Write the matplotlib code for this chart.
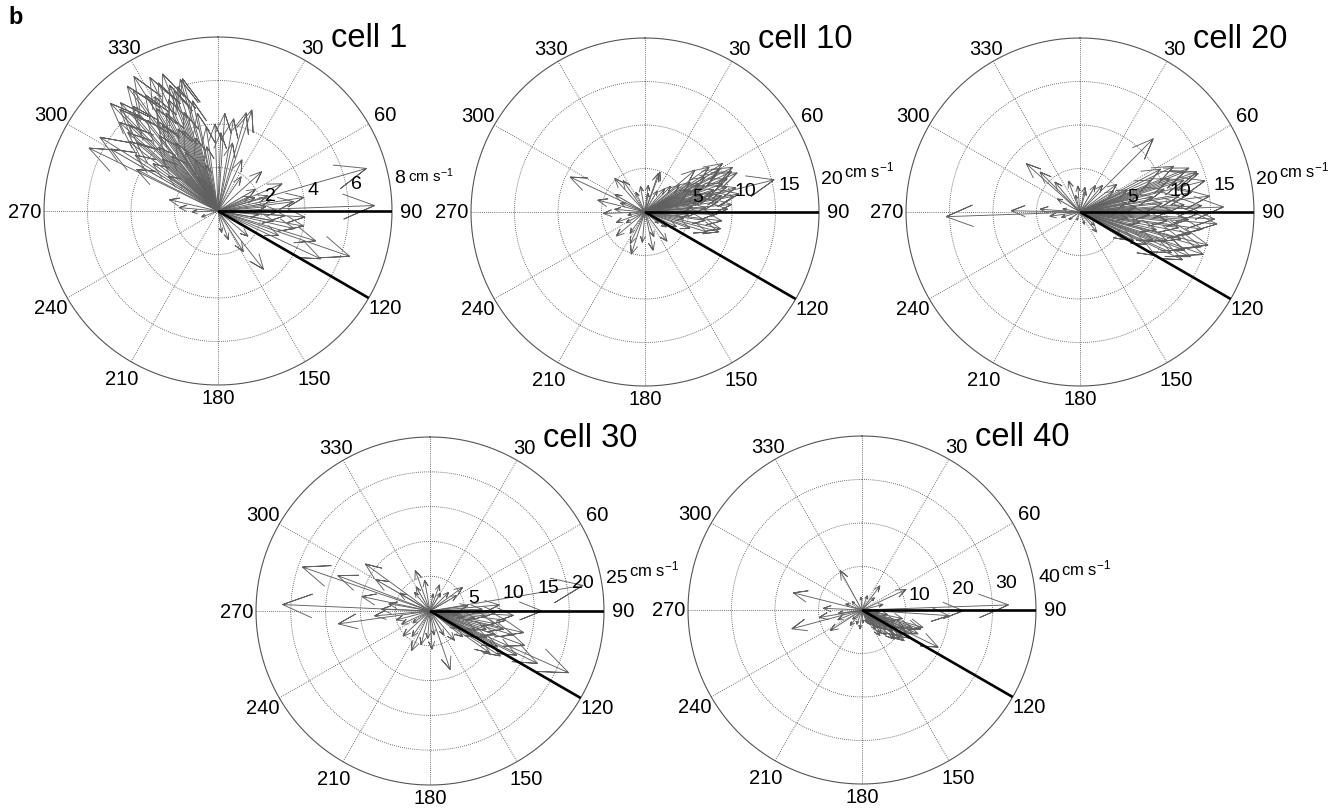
import numpy as np
import matplotlib
matplotlib.use("Agg")
import matplotlib.pyplot as plt

plt.rcParams["font.family"] = ["Liberation Sans", "DejaVu Sans"]
plt.rcParams["mathtext.fontset"] = "custom"
plt.rcParams["mathtext.rm"] = "Liberation Sans"
plt.rcParams["mathtext.default"] = "regular"

# ---------------- data: (bearing deg from N clockwise, speed cm/s) ----------------
cell1_dir = [328, 315, 344, 339, 296, 300, 316, 328, 331, 347, 345, 322, 328, 322, 314, 331, 336, 305,
             306, 297, 319, 325, 333, 336, 341, 334, 310, 320, 343, 326, 312, 302, 308, 338, 350, 352,
             358, 345, 330, 4, 18.5, 9.6, 16, 2, 12, 25, 48, 74, 88, 109, 107, 94, 81, 67, 94, 73, 34,
             100, 60, 70, 78, 85, 65, 90, 95, 100, 103, 112, 115, 83, 142, 148, 130, 160, 170, 283,
             268, 250, 275, 318, 324, 329, 335, 340, 311, 304, 317, 327, 332, 337, 342, 321, 313, 348]
cell1_spd = [7.3, 7.0, 6.3, 6.2, 6.6, 5.7, 6.5, 6.3, 6.0, 5.2, 6.3, 4.4, 3.7, 5.3, 5.7, 3.1, 2.6, 2.8,
             3.7, 4.2, 5.9, 6.8, 6.9, 5.6, 4.8, 4.2, 4.9, 3.3, 3.5, 5.0, 6.1, 6.4, 5.2, 6.8, 3.0, 3.9,
             4.0, 2.2, 1.8, 4.5, 4.9, 4.3, 4.7, 3.6, 3.2, 2.6, 2.7, 7.1, 7.2, 6.4, 4.7, 4.0, 4.0, 3.2,
             3.1, 2.4, 1.9, 4.0, 2.0, 1.8, 2.5, 2.2, 1.6, 2.8, 1.9, 2.6, 3.6, 3.0, 5.2, 3.5, 3.4, 2.2,
             1.8, 1.4, 1.0, 2.3, 1.2, 0.8, 1.8, 6.7, 7.1, 5.5, 6.5, 5.9, 5.5, 4.6, 4.0, 4.7, 5.1, 4.0,
             6.0, 6.2, 3.5, 4.6]

cell10_dir = [295, 76, 65, 62, 80, 96.5, 105, 102.5, 108, 284, 318, 325, 20.5, 7, 198, 168, 143, 230,
              268, 19, 55, 58, 60, 63, 66, 68, 70, 72, 74, 75, 77, 78, 80, 82, 84, 86, 88, 90, 92,
              94, 98, 100, 110, 115, 50, 52, 45, 40, 57, 64, 71, 30, 350, 335, 250, 240, 215, 185,
              160, 130, 275, 290, 260, 300, 10, 125, 205, 60, 67, 73, 79, 69, 62, 85, 76]
cell10_spd = [9.5, 15.3, 11.0, 9.4, 10.4, 8.9, 8.8, 8.9, 7.5, 5.6, 5.2, 4.4, 4.9, 3.1, 5.1, 4.5, 4.2,
              4.3, 4.8, 4.7, 9.0, 10.5, 8.0, 11.3, 7.5, 10.2, 9.5, 8.3, 6.8, 10.8, 7.2, 9.0, 6.0, 8.5,
              5.5, 7.0, 9.5, 6.2, 8.0, 5.0, 7.0, 4.5, 5.5, 4.0, 7.5, 5.0, 4.2, 3.5, 6.2, 5.8, 4.8,
              2.8, 3.0, 2.5, 3.5, 2.5, 3.0, 3.5, 3.0, 2.0, 3.5, 3.0, 2.0, 4.0, 2.2, 3.0, 4.0, 10.0,
              11.5, 9.8, 11.0, 6.5, 7.0, 10.0, 8.0]

cell20_dir = [268, 271, 312, 339.5, 11, 45, 53, 71, 69, 72, 88, 93, 104.5, 112, 116, 132, 254, 274,
              62, 64, 66, 68, 70, 73, 75, 76, 78, 80, 81, 83, 84, 86, 87, 89, 91, 92, 94, 95, 96, 98,
              99, 100, 101, 103, 105, 106, 108, 109, 110, 111, 114, 115, 118, 120, 122, 85, 79, 74,
              90, 97, 65, 58, 15, 355, 345, 320, 300, 280, 262, 235, 200, 160, 140, 30, 40, 315]
cell20_spd = [15.4, 7.9, 8.3, 3.8, 2.9, 11.9, 5.3, 14.2, 12.9, 14.3, 16.5, 15.5, 15.2, 13.7, 8.5, 2.3,
              2.2, 4.6, 10.5, 12.0, 9.0, 13.5, 11.0, 12.5, 10.0, 14.8, 8.5, 13.0, 11.5, 15.0, 9.5,
              12.0, 14.0, 10.5, 13.5, 8.0, 12.5, 15.8, 10.0, 14.2, 11.5, 7.0, 13.0, 9.0, 12.0, 14.5,
              10.5, 15.0, 12.8, 9.0, 11.5, 13.0, 7.0, 10.0, 6.0, 6.5, 5.5, 7.0, 4.5, 5.5, 6.0, 4.5,
              2.5, 3.0, 2.0, 4.5, 3.0, 2.0, 3.5, 1.5, 1.0, 1.5, 3.0, 3.5, 4.0, 6.5]

cell30_dir = [272.5, 289, 291, 306, 262, 272, 340, 54, 80.5, 90, 114, 116, 103, 104, 122.6, 161, 205,
              177, 227, 91, 124, 93, 95, 97, 99, 101, 106, 108, 110, 112, 115, 118, 120, 125, 128,
              100, 96, 88, 85, 82, 110, 117, 60, 45, 30, 20, 10, 350, 330, 320, 300, 280, 255, 245,
              235, 215, 195, 185, 170, 150, 140, 265, 282, 300]
cell30_spd = [21.2, 19.4, 14.2, 11.5, 13.3, 7.0, 6.2, 5.8, 22.3, 16.1, 21.8, 17.2, 13.8, 10.9, 12.0,
              8.9, 6.3, 5.5, 5.3, 9.6, 4.6, 12.0, 8.0, 11.0, 6.5, 9.5, 12.5, 8.5, 10.0, 7.0, 9.0,
              11.0, 7.5, 10.5, 6.0, 5.0, 4.0, 7.5, 10.0, 5.5, 14.5, 14.0, 4.5, 3.8, 3.0, 4.0, 2.5,
              4.5, 4.0, 3.5, 5.0, 6.0, 5.0, 4.5, 3.0, 4.5, 5.0, 4.0, 3.5, 4.0, 5.5, 8.0, 10.0, 9.0]

cell40_dir = [88, 90.4, 93.7, 116, 108, 65, 36.5, 331, 284, 255, 237, 272.5, 217, 186, 145, 106, 115,
              127, 110, 112, 113, 117, 118, 120, 121, 123, 124, 126, 128, 130, 132, 134, 136, 138,
              140, 142, 145, 150, 155, 160, 109, 114, 119, 102, 100, 98, 20, 45, 75, 355, 310, 290,
              262, 248, 225, 200, 175, 260]
cell40_spd = [33.7, 23.3, 20.0, 19.5, 14.2, 11.2, 6.9, 10.4, 16.3, 16.7, 8.7, 8.9, 4.5, 4.4, 7.2,
              14.6, 12.9, 10.9, 12.0, 10.5, 14.0, 11.5, 9.0, 13.0, 7.5, 11.0, 8.5, 12.0, 9.5, 7.0,
              10.0, 6.0, 8.0, 5.5, 7.0, 4.5, 5.5, 4.0, 3.5, 3.0, 8.0, 6.5, 5.0, 9.5, 6.0, 4.0, 3.5,
              4.0, 5.0, 3.0, 3.0, 4.0, 5.5, 6.0, 3.0, 3.5, 3.0, 10.0]

cell_names = ["cell 1", "cell 10", "cell 20", "cell 30", "cell 40"]
cell_dirs = [cell1_dir, cell10_dir, cell20_dir, cell30_dir, cell40_dir]
cell_spds = [cell1_spd, cell10_spd, cell20_spd, cell30_spd, cell40_spd]
cell_rmax = [8, 20, 20, 25, 40]
cell_step = [2, 5, 5, 5, 10]
marker_bearings = [90, 120]
angle_ticks = list(range(0, 360, 30))

# ---------------- layout (pixels) ----------------
W, H = 1332, 812
centers = [(218, 212), (645, 213), (1080, 213), (430, 612), (862, 611)]
R = 174

fig = plt.figure(figsize=(W / 100, H / 100), dpi=100)

grid_col = "#444444"
arrow_col = "#606060"


def polar_xy(bearing, r):
    b = np.radians(bearing)
    return r * np.sin(b), r * np.cos(b)


for k in range(5):
    cx, cy = centers[k]
    rmax = cell_rmax[k]
    step = cell_step[k]
    ax = fig.add_axes([(cx - R) / W, (H - cy - R) / H, 2 * R / W, 2 * R / H])
    ax.set_xlim(-rmax, rmax)
    ax.set_ylim(-rmax, rmax)
    ax.axis("off")

    t = np.linspace(0, 2 * np.pi, 721)
    rings = np.arange(step, rmax + 1e-9, step)
    for r in rings:
        if r < rmax:
            ax.plot(r * np.sin(t), r * np.cos(t), ls=(0, (1, 1.5)), lw=0.6, color=grid_col,
                    zorder=1)
        else:
            ax.plot(r * np.sin(t), r * np.cos(t), ls="-", lw=0.8, color="#555555", zorder=1,
                    clip_on=False)
    for a in range(0, 180, 30):
        x1, y1 = polar_xy(a, rmax)
        ax.plot([-x1, x1], [-y1, y1], ls=(0, (1, 1.5)), lw=0.6, color=grid_col, zorder=1)

    # arrows (MATLAB compass style)
    for d, s in zip(cell_dirs[k], cell_spds[k]):
        b = np.radians(d)
        ux, uy = np.sin(b), np.cos(b)
        px, py = np.cos(b), -np.sin(b)
        tx, ty = s * ux, s * uy
        lx, ly = 0.8 * s * ux + 0.08 * s * px, 0.8 * s * uy + 0.08 * s * py
        rx, ry = 0.8 * s * ux - 0.08 * s * px, 0.8 * s * uy - 0.08 * s * py
        ax.plot([0, tx, lx, tx, rx], [0, ty, ly, ty, ry], color=arrow_col, lw=0.65,
                solid_joinstyle="miter", zorder=2)

    # marker lines
    for mb in marker_bearings:
        x1, y1 = polar_xy(mb, rmax)
        ax.plot([0, x1], [0, y1], color="black", lw=1.9, zorder=4, solid_capstyle="butt")

    # ring labels
    for r in rings:
        x1, y1 = polar_xy(82, r + rmax / 45)
        txt = ax.text(x1, y1, f"{r:g}", fontsize=14, ha="left", va="bottom", zorder=5)
        if r == rmax:
            if k == 0:
                ax.annotate("cm s$^{-1}$", xy=(1, 0.15), xycoords=txt, xytext=(2, 0),
                            textcoords="offset points", fontsize=11, ha="left", va="bottom")
            else:
                ax.annotate("cm s$^{-1}$", xy=(1, 0.45), xycoords=txt, xytext=(1, 0),
                            textcoords="offset points", fontsize=12, ha="left", va="bottom")

    # angle labels
    for a in angle_ticks:
        if a == 0:
            f = 1.06
        elif a == 180:
            f = 1.07
        elif a in (30, 330):
            f = 1.085
        else:
            f = 1.11
        x1, y1 = polar_xy(a, f * rmax)
        if a == 0:
            ax.annotate("0° N", xy=(x1, y1), xytext=(-4, 0), textcoords="offset points",
                        fontsize=14.5, ha="left", va="center")
        else:
            ax.text(x1, y1, str(a), fontsize=14.5, ha="center", va="center")

    fig.text((cx + 113) / W, 1 - (cy - 165) / H, cell_names[k], fontsize=23.5,
             ha="left", va="baseline")

fig.text(8 / W, 1 - 24 / H, "b", fontsize=17, fontweight="bold", ha="left", va="baseline")

fig.savefig("out.png", dpi=100)
